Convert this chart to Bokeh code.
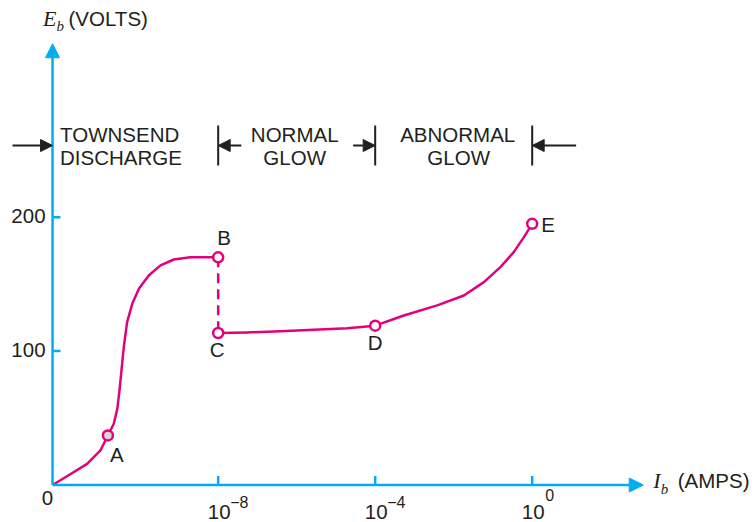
from math import pi
from bokeh.plotting import figure
from bokeh.models import Range1d, Arrow, NormalHead
from bokeh.core.properties import value
from bokeh.embed import file_html
from bokeh.resources import INLINE

# ---- data: x = log10(I_b / A), y = E_b (volts) ----
x_origin = -12.22                      # left end of the current axis (labelled "0")
seg1_x = [-12.22, -11.82, -11.34, -11.00, -10.81, -10.66, -10.57, -10.51, -10.46,
          -10.40, -10.32, -10.19, -10.02, -9.77, -9.47, -9.13, -8.71, -8.32, -8.0]
seg1_y = [0, 7.1, 15.8, 25.8, 37.0, 45.7, 56.9, 71.8, 86.8,
          104.3, 121.6, 135.3, 146.5, 156.5, 164.0, 168.4, 170.1, 170.1, 170.0]
seg2_x = [-8.0, -7.26, -6.41, -5.56, -4.71, -4.0, -3.27, -2.42, -1.74, -1.23,
          -0.81, -0.47, -0.21, 0.0]
seg2_y = [113.5, 113.9, 114.9, 115.9, 117.1, 119.0, 126.6, 134.1, 141.5, 151.5,
          162.7, 173.9, 185.1, 195.0]
point_names = ["A", "B", "C", "D", "E"]
point_x = [-10.81, -8.0, -8.0, -4.0, 0.0]
point_y = [37.0, 170.0, 113.5, 119.0, 195.0]

y_ticks = [100, 200]
y_tick_labels = ["100", "200"]
x_ticks = [-8, -4, 0]
x_tick_base = ["10", "10", "10"]
x_tick_exp = ["\u22128", "\u22124", "0"]

region_bounds = [x_origin, -8, -4, 0]
region_line1 = ["TOWNSEND", "NORMAL", "ABNORMAL"]
region_line2 = ["DISCHARGE", "GLOW", "GLOW"]

# ---- styling ----
AX = "#00aeef"
MAG = "#e4007c"
TXT = "#231f20"
SANS = value("Liberation Sans")
SERIF = value("Liberation Serif")
FS = "20.5px"
DY = -8          # baseline correction for text placement (screen px)

Y_TIP = 329.5    # top of the volts axis arrow
X_TIP = 2.83     # right end of the current axis arrow
ROW1_Y, ROW2_Y = 255.8, 238.6
ARR_Y = 253.5
BAR_LO, BAR_HI = 238.6, 268.5

p = figure(width=752, height=522, x_range=Range1d(-13.546, 5.613),
           y_range=Range1d(-28.0, 361.8), output_backend="svg",
           toolbar_location=None, min_border=0, x_axis_location=None,
           y_axis_location=None, outline_line_color=None,
           background_fill_color="white", border_fill_color="white")
p.xgrid.visible = False
p.ygrid.visible = False

# axes with arrow heads
p.add_layout(Arrow(end=NormalHead(size=14, fill_color=AX, line_color=AX, line_width=1),
                   x_start=x_origin, y_start=0, x_end=x_origin, y_end=Y_TIP,
                   line_color=AX, line_width=2.5))
p.add_layout(Arrow(end=NormalHead(size=14, fill_color=AX, line_color=AX, line_width=1),
                   x_start=x_origin, y_start=0, x_end=X_TIP, y_end=0,
                   line_color=AX, line_width=2.5))
p.ray(x=[x_origin] * len(y_ticks), y=y_ticks, length=8, length_units="screen",
      angle=0, line_color=AX, line_width=2.5)
p.ray(x=x_ticks, y=[0] * len(x_ticks), length=9, length_units="screen",
      angle=pi / 2, line_color=AX, line_width=2.5)

# tick labels
p.text(x=[x_origin] * len(y_ticks), y=y_ticks, text=y_tick_labels, text_align="right",
       text_baseline="alphabetic", x_offset=-7, y_offset=7 + DY, text_font=SANS,
       text_font_size=FS, text_color=TXT)
p.text(x=[x_origin], y=[0], text=["0"], text_align="center", text_baseline="alphabetic",
       x_offset=-5, y_offset=13, text_font=SANS, text_font_size=FS, text_color=TXT)
p.text(x=x_ticks, y=[0] * len(x_ticks), text=x_tick_base, text_align="center",
       text_baseline="alphabetic", x_offset=1, y_offset=27, text_font=SANS,
       text_font_size=FS, text_color=TXT)
p.text(x=x_ticks, y=[0] * len(x_ticks), text=x_tick_exp, text_align="left",
       text_baseline="alphabetic", x_offset=[12, 12, 13], y_offset=[17, 17, 10],
       text_font=SANS, text_font_size="16px", text_color=TXT)

# axis titles
p.text(x=[x_origin], y=[Y_TIP], text=["E"], text_align="left", text_baseline="alphabetic",
       x_offset=-9.5, y_offset=-17 + DY, text_font=SERIF, text_font_style="italic",
       text_font_size="22px", text_color=TXT)
p.text(x=[x_origin], y=[Y_TIP], text=["b"], text_align="left", text_baseline="alphabetic",
       x_offset=4, y_offset=-10 + DY, text_font=SERIF, text_font_style="italic",
       text_font_size="15px", text_color=TXT)
p.text(x=[x_origin], y=[Y_TIP], text=["(VOLTS)"], text_align="left",
       text_baseline="alphabetic", x_offset=16, y_offset=-17 + DY, text_font=SANS,
       text_font_size=FS, text_color=TXT)
p.text(x=[X_TIP], y=[0], text=["I"], text_align="left", text_baseline="alphabetic",
       x_offset=10, y_offset=3.5 + DY, text_font=SERIF, text_font_style="italic",
       text_font_size="22px", text_color=TXT)
p.text(x=[X_TIP], y=[0], text=["b"], text_align="left", text_baseline="alphabetic",
       x_offset=17.5, y_offset=11.5 + DY, text_font=SERIF, text_font_style="italic",
       text_font_size="15px", text_color=TXT)
p.text(x=[X_TIP], y=[0], text=["(AMPS)"], text_align="left", text_baseline="alphabetic",
       x_offset=34.5, y_offset=3.5 + DY, text_font=SANS, text_font_size=FS, text_color=TXT)

# region markers
p.segment(x0=region_bounds[1:], y0=[BAR_LO] * 3, x1=region_bounds[1:], y1=[BAR_HI] * 3,
          line_color=TXT, line_width=2)
for xs, xe in [(region_bounds[0] - 1.02, region_bounds[0]),
               (region_bounds[1] + 0.59, region_bounds[1]),
               (region_bounds[2] - 0.56, region_bounds[2]),
               (region_bounds[3] + 1.12, region_bounds[3])]:
    p.add_layout(Arrow(end=NormalHead(size=12, fill_color=TXT, line_color=TXT, line_width=1),
                       x_start=xs, y_start=ARR_Y, x_end=xe, y_end=ARR_Y,
                       line_color=TXT, line_width=2))

p.text(x=[region_bounds[0]] * 2, y=[ROW1_Y, ROW2_Y], text=[region_line1[0], region_line2[0]],
       text_align="left", text_baseline="alphabetic", x_offset=7.5, y_offset=DY,
       text_font=SANS, text_font_size=FS, text_color=TXT)
mids = [(region_bounds[i] + region_bounds[i + 1]) / 2 for i in (1, 2)]
p.text(x=mids + mids, y=[ROW1_Y] * 2 + [ROW2_Y] * 2,
       text=region_line1[1:] + region_line2[1:], text_align="center",
       text_baseline="alphabetic", x_offset=[-2, 4, -2, 5], y_offset=DY,
       text_font=SANS, text_font_size=FS, text_color=TXT)

# characteristic curve
p.line(seg1_x, seg1_y, line_color=MAG, line_width=2.5, line_join="round")
p.line(seg2_x, seg2_y, line_color=MAG, line_width=2.5, line_join="round")
p.line([point_x[1], point_x[2]], [point_y[1], point_y[2]], line_color=MAG,
       line_width=2.5, line_dash="10 6")
p.scatter(point_x, point_y, marker="circle", size=10,
          fill_color=["#d9d9d9", "white", "white", "white", "white"],
          line_color=MAG, line_width=2.5)
p.text(x=point_x, y=point_y, text=point_names, text_align="center",
       text_baseline="alphabetic", x_offset=[9, 6, -1, 0, 16],
       y_offset=[27 + DY, -12 + DY, 24 + DY, 25 + DY, 9 + DY], text_font=SANS,
       text_font_size=FS, text_color=TXT)

open("out.html", "w").write(file_html(p, INLINE))
